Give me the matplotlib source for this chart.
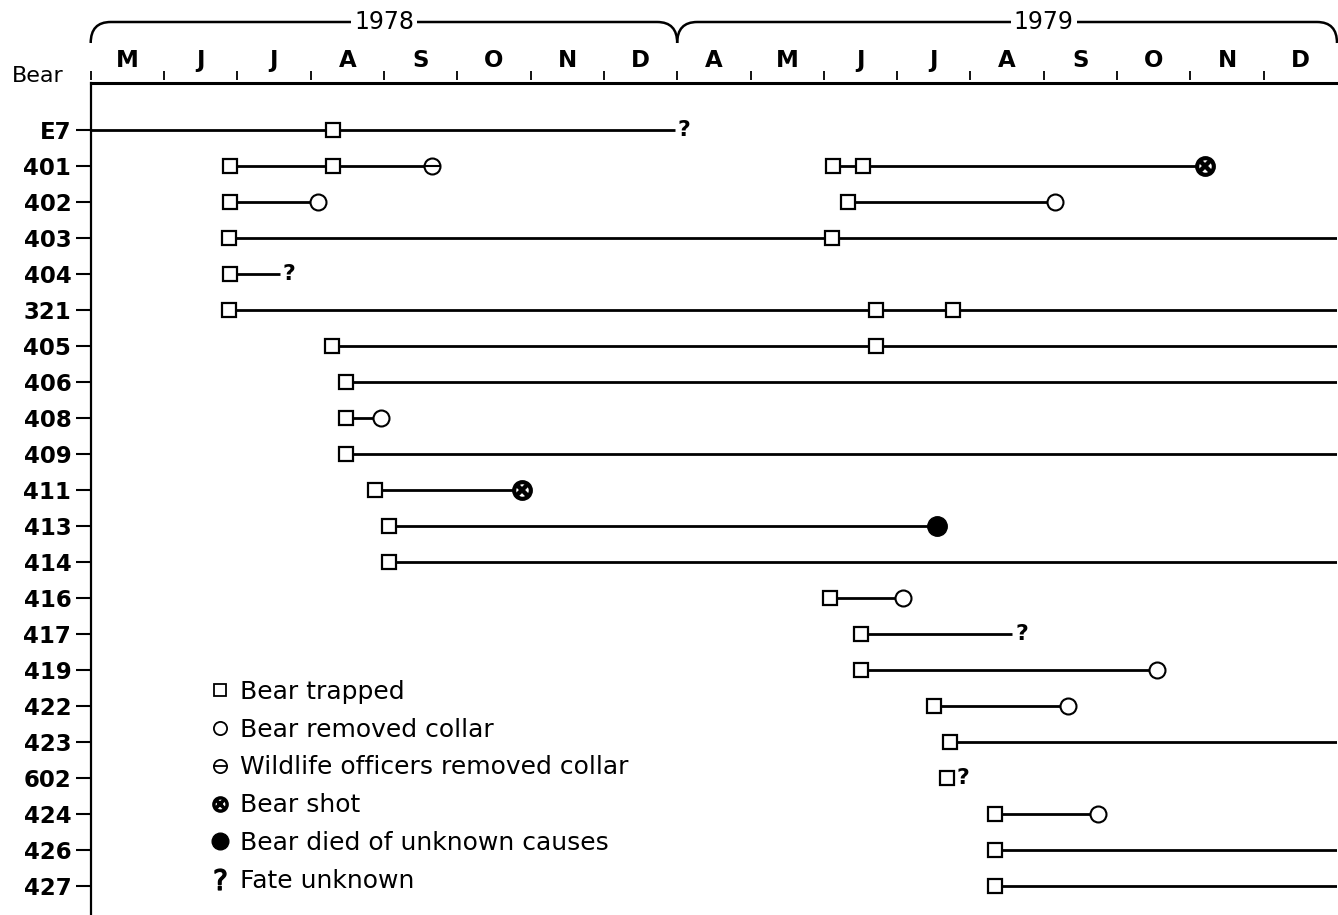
import matplotlib
matplotlib.use("Agg")
import matplotlib.pyplot as plt
from matplotlib.lines import Line2D
from matplotlib.path import Path
from matplotlib.patches import PathPatch
import matplotlib.transforms as mtransforms

# months on the axis: May-Dec 1978, then Apr-Dec 1979 (Jan-Mar 1979 left out)
months_1978 = ["M", "J", "J", "A", "S", "O", "N", "D"]
months_1979 = ["A", "M", "J", "J", "A", "S", "O", "N", "D"]

bears = ["E7", "401", "402", "403", "404", "321", "405", "406", "408", "409", "411",
         "413", "414", "416", "417", "419", "422", "423", "602", "424", "426", "427"]

# tracking segments (x in month index along the axis, None = still collared at end)
seg_bear  = ["E7", "401", "401", "402", "402", "403", "404", "321", "405", "406", "408",
             "409", "411", "413", "414", "416", "417", "419", "422", "423", "602", "424",
             "426", "427"]
seg_start = [0.0, 1.90, 10.12, 1.90, 10.33, 1.89, 1.90, 1.89, 3.29, 3.48, 3.48,
             3.48, 3.88, 4.07, 4.07, 10.09, 10.51, 10.51, 11.50, 11.72, 11.68, 12.34,
             12.34, 12.34]
seg_end   = [7.97, 4.66, 15.20, 3.10, 13.16, None, 2.58, None, None, None, 3.96,
             None, 5.88, 11.55, None, 11.08, 12.57, 14.55, 13.33, None, 11.77, 13.74,
             None, None]
seg_fate  = ["unknown", "officers", "shot", "removed", "removed", None, "unknown", None, None, None, "removed",
             None, "shot", "died", None, "removed", "unknown", "removed", "removed", None, "unknown", "removed",
             None, None]

# trapping events
trap_bear  = ["E7", "401", "401", "401", "401", "402", "402", "403", "403", "404",
              "321", "321", "321", "405", "405", "406", "408", "409", "411", "413",
              "414", "416", "417", "419", "422", "423", "602", "424", "426", "427"]
trap_month = [3.30, 1.90, 3.30, 10.12, 10.54, 1.90, 10.33, 1.89, 10.11, 1.90,
              1.89, 10.71, 11.76, 3.29, 10.71, 3.48, 3.48, 3.48, 3.88, 4.07,
              4.07, 10.09, 10.51, 10.51, 11.50, 11.72, 11.68, 12.34, 12.34, 12.34]

legend_labels = ["Bear trapped", "Bear removed collar", "Wildlife officers removed collar",
                 "Bear shot", "Bear died of unknown causes", "Fate unknown"]

W, H = 1338, 915
fig = plt.figure(figsize=(W / 100, H / 100), dpi=100)
fig.patch.set_facecolor("white")

n_months = len(months_1978) + len(months_1979)
x_left, x_right = 90.7, 1337.0
y_top, row0, row_step = 83.0, 130.0, 36.0
ax = fig.add_axes([x_left / W, 0, (x_right - x_left) / W, 1 - y_top / H])
ax.set_xlim(0, n_months)
ax.set_ylim((H - row0) / row_step, -(row0 - y_top) / row_step)

rows = {b: i for i, b in enumerate(bears)}
lw = 2.0

# tracks
for b, s, e in zip(seg_bear, seg_start, seg_end):
    end = n_months if e is None else e
    ax.plot([s, end], [rows[b], rows[b]], color="black", lw=lw, solid_capstyle="butt", zorder=2)

# fates
q_off = mtransforms.offset_copy(ax.transData, fig=fig, x=3, y=0, units="dots")
for b, e, f in zip(seg_bear, seg_end, seg_fate):
    y = rows[b]
    if f == "removed":
        ax.plot(e, y, "o", ms=11.5, mfc="white", mec="black", mew=1.5, zorder=4)
    elif f == "officers":
        ax.plot(e, y, "o", ms=11.5, mfc="white", mec="black", mew=1.5, zorder=4)
        ax.plot(e, y, "_", ms=11.5, mec="black", mew=1.5, zorder=5)
    elif f == "shot":
        ax.plot(e, y, "o", ms=12, mfc="white", mec="black", mew=3.0, zorder=4)
        ax.plot(e, y, "x", ms=8, mec="black", mew=3.2, zorder=5)
    elif f == "died":
        ax.plot(e, y, "o", ms=14, mfc="black", mec="black", zorder=4)
    elif f == "unknown":
        ax.text(e, y, "?", transform=q_off, ha="left", va="center",
                fontsize=16, fontweight="bold", zorder=5)

# traps
for b, m in zip(trap_bear, trap_month):
    ax.plot(m, rows[b], "s", ms=9.5, mfc="white", mec="black", mew=1.6, zorder=6)

# axes styling
for side in ["right", "bottom"]:
    ax.spines[side].set_visible(False)
ax.spines["left"].set_linewidth(1.6)
ax.spines["top"].set_linewidth(2.2)

ax.set_yticks(range(len(bears)))
ax.set_yticklabels(bears, fontsize=16.5, fontweight="bold")
ax.tick_params(axis="y", direction="out", length=11, width=1.5, pad=3)

month_labels = months_1978 + months_1979
ax.set_xticks([i + 0.5 for i in range(n_months)])
ax.set_xticklabels(month_labels, fontsize=16.5, fontweight="bold")
ax.tick_params(axis="x", top=True, bottom=False, labeltop=True, labelbottom=False,
               length=0, pad=8)

# month boundary marks, just above the top line
ax_h = H - y_top
tick_tr = mtransforms.blended_transform_factory(ax.transData, ax.transAxes)
ax.vlines(range(n_months), 1 + 3 / ax_h, 1 + 12 / ax_h, transform=tick_tr,
          color="black", lw=1.3, clip_on=False)

fig.text(12 / W, 1 - 76 / H, "Bear", fontsize=16, va="center", ha="left")

# year braces
br_tr = mtransforms.blended_transform_factory(ax.transData, fig.transFigure)
yb_top, yb_low = 1 - 22 / H, 1 - 43 / H
rx = 20 / ((x_right - x_left) / n_months)


def brace(x0, x1):
    verts = [(x0, yb_low), (x0, yb_top), (x0 + rx, yb_top),
             (x1 - rx, yb_top), (x1, yb_top), (x1, yb_low)]
    codes = [Path.MOVETO, Path.CURVE3, Path.CURVE3, Path.LINETO, Path.CURVE3, Path.CURVE3]
    fig.add_artist(PathPatch(Path(verts, codes), transform=br_tr, fill=False,
                             lw=1.8, color="black", clip_on=False))


n78 = len(months_1978)
brace(0, n78)
brace(n78, n_months)
for xc, txt in [(4.0, "1978"), (13.0, "1979")]:
    fig.text(xc, yb_top, txt, transform=br_tr, ha="center", va="center", fontsize=17,
             bbox=dict(facecolor="white", edgecolor="none", pad=2))

# legend
h_trap = Line2D([], [], ls="none", marker="s", ms=8.5, mfc="white", mec="black", mew=1.3)
h_rem = Line2D([], [], ls="none", marker="o", ms=9.5, mfc="white", mec="black", mew=1.3)
h_off = (Line2D([], [], ls="none", marker="o", ms=9.5, mfc="white", mec="black", mew=1.3),
         Line2D([], [], ls="none", marker="_", ms=9.5, mec="black", mew=1.3))
h_shot = (Line2D([], [], ls="none", marker="o", ms=9.5, mfc="white", mec="black", mew=2.5),
          Line2D([], [], ls="none", marker="x", ms=6.5, mec="black", mew=2.6))
h_died = Line2D([], [], ls="none", marker="o", ms=12, mfc="black", mec="black")
h_unk = Line2D([], [], ls="none", marker=r"$?$", ms=15, color="black")
ax.legend([h_trap, h_rem, h_off, h_shot, h_died, h_unk], legend_labels,
          loc="upper left", bbox_to_anchor=(208 / W, 1 - 680 / H), bbox_transform=fig.transFigure,
          frameon=False, fontsize=18, handlelength=1.0, handletextpad=0.3,
          labelspacing=0.55, borderpad=0, borderaxespad=0)

fig.savefig("out.png", dpi=100, facecolor="white")
